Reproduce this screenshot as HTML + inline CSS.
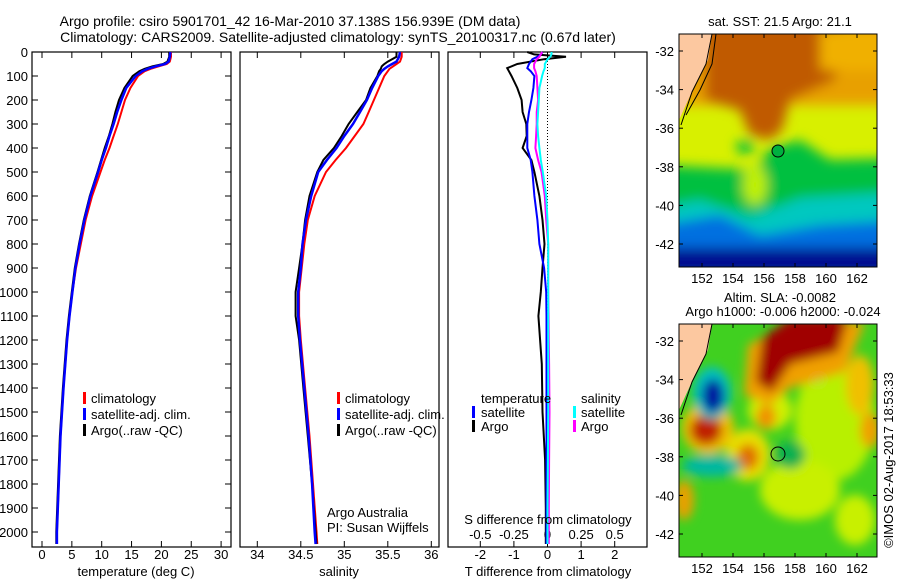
<!DOCTYPE html>
<html><head><meta charset="utf-8"><style>
body{margin:0;background:#fff;}
svg{display:block;font-family:"Liberation Sans",sans-serif;}
text{font-size:13px;fill:#000;}
</style></head><body>
<svg id="fig" width="900" height="580" viewBox="0 0 900 580" xmlns="http://www.w3.org/2000/svg">
<defs>
<filter id="bl" x="-30%" y="-30%" width="160%" height="160%"><feGaussianBlur stdDeviation="6"/></filter>
<filter id="bl2" x="-30%" y="-30%" width="160%" height="160%"><feGaussianBlur stdDeviation="5"/></filter>
<clipPath id="m1"><rect x="679" y="34" width="198" height="233"/></clipPath>
<clipPath id="m2"><rect x="679" y="324" width="198" height="233"/></clipPath>
</defs>
<text x="290" y="26" text-anchor="middle" style="font-size:14px">Argo profile: csiro 5901701_42 16-Mar-2010 37.138S 156.939E (DM data)</text>
<text x="338" y="42" text-anchor="middle" style="font-size:14px">Climatology: CARS2009. Satellite-adjusted climatology: synTS_20100317.nc (0.67d later)</text>

<g id="p1"></g>
<g id="p2"></g>
<g id="p3"></g>

<g>
<rect x="83" y="392" width="3" height="12" fill="#f00"/><text x="91" y="403">climatology</text>
<rect x="83" y="408" width="3" height="12" fill="#00f"/><text x="91" y="419">satellite-adj. clim.</text>
<rect x="83" y="424" width="3" height="12" fill="#000"/><text x="91" y="435">Argo(..raw -QC)</text>
</g>
<g>
<rect x="337" y="392" width="3" height="12" fill="#f00"/><text x="345" y="403">climatology</text>
<rect x="337" y="408" width="3" height="12" fill="#00f"/><text x="345" y="419">satellite-adj. clim.</text>
<rect x="337" y="424" width="3" height="12" fill="#000"/><text x="345" y="435">Argo(..raw -QC)</text>
</g>
<g>
<text x="481" y="403">temperature</text><text x="581" y="403">salinity</text>
<rect x="472" y="406" width="3" height="12" fill="#00f"/><text x="481" y="417">satellite</text>
<rect x="472" y="420" width="3" height="12" fill="#000"/><text x="481" y="431">Argo</text>
<rect x="573" y="406" width="3" height="12" fill="#0ff"/><text x="581" y="417">satellite</text>
<rect x="573" y="420" width="3" height="12" fill="#f0f"/><text x="581" y="431">Argo</text>
</g>
<text x="327" y="517">Argo Australia</text>
<text x="327" y="532">PI: Susan Wijffels</text>
<text x="548" y="524" text-anchor="middle">S difference from climatology</text>
<text x="136" y="576" text-anchor="middle">temperature (deg C)</text>
<text x="339" y="576" text-anchor="middle">salinity</text>
<text x="548" y="576" text-anchor="middle">T difference from climatology</text>

<text x="780" y="26" text-anchor="middle">sat. SST: 21.5 Argo: 21.1</text>
<g clip-path="url(#m1)">
<rect x="679" y="34" width="198" height="233" fill="#d8f000"/>
<g filter="url(#bl)">
<rect x="660" y="20" width="240" height="85" fill="#e8a000"/>
<path d="M705 20 L840 20 L835 80 L790 100 L782 130 L770 140 L750 135 L740 110 L705 100 Z" fill="#c05a00"/>
<rect x="820" y="30" width="70" height="40" fill="#f0b000"/>
<rect x="660" y="190" width="240" height="90" fill="#00c060"/>
<path d="M660 165 L755 170 L770 148 L800 140 L830 160 L900 158 L900 200 L660 210 Z" fill="#00c040"/>
<path d="M660 208 L700 200 L750 218 L800 198 L900 192 L900 240 L660 250 Z" fill="#00c8c0"/>
<path d="M660 225 L720 215 L760 235 L820 225 L900 220 L900 250 L660 260 Z" fill="#0070e0"/>
<rect x="660" y="248" width="240" height="30" fill="#000a90"/>
<ellipse cx="745" cy="147" rx="9" ry="7" fill="#00c040"/>
<ellipse cx="755" cy="185" rx="12" ry="20" fill="#c0f000"/>
</g>
<path d="M679 34 L712 34 L708 60 L695 85 L679 120 Z" fill="#fcc8a0"/>
<path d="M712 34 L706 64 L692 92 L681 125" fill="none" stroke="#000" stroke-width="1"/>
<path d="M716 34 L712 64 L700 90 L686 115" fill="none" stroke="#000" stroke-width="1"/>
<circle cx="778" cy="151" r="6" fill="#00b040" stroke="#000" stroke-width="1"/>
</g>
<rect x="679" y="34" width="198" height="233" fill="none" stroke="#000"/>
<g id="ax1"></g>

<text x="780" y="302" text-anchor="middle">Altim. SLA: -0.0082</text>
<text x="783" y="316" text-anchor="middle">Argo h1000: -0.006 h2000: -0.024</text>
<g clip-path="url(#m2)">
<rect x="679" y="324" width="198" height="233" fill="#40d020"/>
<g filter="url(#bl2)">
<ellipse cx="835" cy="420" rx="40" ry="60" fill="#b8f000"/>
<ellipse cx="800" cy="490" rx="40" ry="30" fill="#c8f000"/>
<ellipse cx="770" cy="410" rx="22" ry="20" fill="#d0f000"/>
<ellipse cx="855" cy="520" rx="20" ry="25" fill="#c8f000"/>
<ellipse cx="748" cy="455" rx="22" ry="26" fill="#e8e000"/>
<ellipse cx="748" cy="457" rx="11" ry="13" fill="#e07000"/>
<ellipse cx="766" cy="417" rx="10" ry="12" fill="#f09000"/>
<ellipse cx="860" cy="385" rx="14" ry="30" fill="#f0c000"/>
<ellipse cx="870" cy="430" rx="10" ry="18" fill="#f0a000"/>
<ellipse cx="708" cy="428" rx="26" ry="26" fill="#f0c000"/>
<ellipse cx="706" cy="430" rx="16" ry="15" fill="#c02000"/>
<ellipse cx="712" cy="393" rx="19" ry="26" fill="#00c0c0"/>
<ellipse cx="713" cy="396" rx="11" ry="17" fill="#0018a0"/>
<ellipse cx="712" cy="466" rx="30" ry="11" fill="#00b8a0"/>
<ellipse cx="808" cy="366" rx="24" ry="16" fill="#00c8d0"/>
<ellipse cx="808" cy="366" rx="11" ry="8" fill="#30a0ff"/>
<path d="M748 345 L790 322 L865 322 L845 372 L790 388 L770 405 L744 395 Z" fill="#f0a000"/>
<path d="M762 338 L790 318 L848 318 L838 352 L790 364 L772 392 L756 382 Z" fill="#a00000"/>
<ellipse cx="684" cy="500" rx="10" ry="20" fill="#e8a000"/>
<ellipse cx="790" cy="455" rx="15" ry="14" fill="#10b050"/>
</g>
<path d="M679 324 L712 324 L708 350 L695 375 L679 410 Z" fill="#fcc8a0"/>
<path d="M712 324 L706 354 L692 382 L681 415" fill="none" stroke="#000" stroke-width="1"/>
<circle cx="778" cy="454" r="7" fill="none" stroke="#000" stroke-width="1"/>
</g>
<rect x="679" y="324" width="198" height="233" fill="none" stroke="#000"/>
<g id="ax2"></g>
<text transform="translate(893,460) rotate(-90)" text-anchor="middle">©IMOS 02-Aug-2017 18:53:33</text>
</svg>
<script>
const depths=[0,20,40,50,60,70,80,100,150,200,250,300,350,400,450,500,600,700,800,900,1000,1100,1200,1400,1600,1800,2000,2050];
const tempArgo=[21.3,21.3,21.0,20.3,18.5,17.2,16.3,15.2,13.8,12.9,12.3,11.8,11.2,10.5,9.9,9.3,8.0,7.0,6.2,5.5,5.0,4.5,4.1,3.5,3.0,2.7,2.4,2.4];
const tempSat=[21.5,21.4,21.2,20.6,19.0,17.7,16.8,15.7,14.1,13.3,12.6,12.0,11.3,10.7,10.0,9.4,8.1,7.1,6.3,5.6,5.1,4.6,4.2,3.6,3.1,2.8,2.5,2.5];
const tempClim=[21.6,21.6,21.4,20.9,19.5,18.2,17.2,16.1,14.8,13.9,13.3,12.7,12.0,11.3,10.5,9.8,8.4,7.3,6.5,5.7,5.1,4.6,4.2,3.6,3.1,2.8,2.5,2.5];
const salArgo=[35.60,35.60,35.50,35.46,35.43,35.42,35.40,35.38,35.30,35.25,35.15,35.05,34.97,34.88,34.76,34.69,34.60,34.55,34.52,34.48,34.44,34.44,34.48,34.53,34.58,34.63,34.67,34.68];
const salSat=[35.64,35.63,35.60,35.55,35.50,35.46,35.43,35.39,35.32,35.26,35.18,35.10,35.00,34.91,34.80,34.70,34.62,34.56,34.52,34.50,34.47,34.47,34.49,34.54,34.59,34.63,34.66,34.67];
const salClim=[35.66,35.66,35.64,35.60,35.56,35.52,35.50,35.46,35.40,35.34,35.28,35.22,35.12,35.02,34.90,34.79,34.66,34.58,34.54,34.51,34.48,34.48,34.50,34.55,34.60,34.64,34.68,34.69];
const dDepths=[0,10,20,30,50,67,80,100,150,200,250,300,350,400,450,500,600,700,800,900,1000,1100,1200,1300,1500,1700,1900,2050];
const dTArgo=[-0.6,-0.4,0.55,-0.1,-0.9,-1.2,-1.15,-1.07,-0.9,-0.77,-0.74,-0.63,-0.62,-0.74,-0.48,-0.39,-0.24,-0.15,-0.09,-0.15,-0.2,-0.27,-0.22,-0.17,-0.15,-0.07,-0.05,-0.05];
const dTSat=[-0.15,-0.2,-0.3,-0.45,-0.55,-0.6,-0.5,-0.39,-0.42,-0.48,-0.55,-0.6,-0.6,-0.6,-0.5,-0.45,-0.39,-0.3,-0.24,-0.1,-0.04,-0.03,-0.03,-0.03,-0.03,-0.03,-0.03,-0.03];
const dSArgo=[-0.04,-0.05,-0.06,-0.08,-0.1,-0.1,-0.09,-0.08,-0.075,-0.07,-0.08,-0.08,-0.085,-0.09,-0.07,-0.045,-0.02,-0.01,0.005,0.005,0.005,0.008,0.01,0.012,0.015,0.012,0.01,0.01];
const dSSat=[0.03,0.03,0.02,0.0,-0.02,-0.02,-0.03,-0.04,-0.06,-0.065,-0.07,-0.075,-0.07,-0.06,-0.05,-0.035,-0.01,0.0,0.005,0.005,0.005,0.005,0.005,0.005,0.005,0.003,0.0,0.0];
const depthTicks=[0,100,200,300,400,500,600,700,800,900,1000,1100,1200,1300,1400,1500,1600,1700,1800,1900,2000];
const tempTicks=[0,5,10,15,20,25,30];
const salTicks=[34,34.5,35,35.5,36];
const salTickLabels=["34","34.5","35","35.5","36"];
const dTTicks=[-2,-1,0,1,2];
const dSTicks=[-0.5,-0.25,0,0.25,0.5];
const lonTicks=[152,154,156,158,160,162];
const latTicks=[-32,-34,-36,-38,-40,-42];

const NS="http://www.w3.org/2000/svg";
const Y=d=>52+d*0.24;
const xT=v=>42+v*5.97;
const xS=v=>257.3+(v-34)*87;
const xD=v=>547.5+v*33.6;
const xDS=v=>547.5+v*134.4;
function mk(parent,tag,attrs){const e=document.createElementNS(NS,tag);for(const k in attrs)e.setAttribute(k,attrs[k]);parent.appendChild(e);return e;}
function frame(g,x0,x1){const r=mk(g,'rect',{x:x0,y:52,width:x1-x0,height:495,fill:'none',stroke:'#000','stroke-width':1.2});}
function line(g,xs,ys,fx,col,w,name){let pts=xs.map((v,i)=>fx(v).toFixed(1)+','+Y(ys[i]).toFixed(1)).join(' ');const p=mk(g,'polyline',{points:pts,fill:'none',stroke:col,'stroke-width':w});}
function xticks(g,ticks,labels,fx,ly,top){ticks.forEach((t,i)=>{const x=fx(t);mk(g,'line',{x1:x,x2:x,y1:547,y2:541,stroke:'#000'});if(top)mk(g,'line',{x1:x,x2:x,y1:52,y2:58,stroke:'#000'});const tx=mk(g,'text',{x:x,y:ly,'text-anchor':'middle'});tx.textContent=labels[i];});}

const p1=document.getElementById('p1'),p2=document.getElementById('p2'),p3=document.getElementById('p3');
frame(p1,32,231);frame(p2,240,439);frame(p3,448,647);
depthTicks.forEach(d=>{const y=Y(d);mk(p1,'line',{x1:32,x2:38,y1:y,y2:y,stroke:'#000'});mk(p1,'line',{x1:231,x2:225,y1:y,y2:y,stroke:'#000'});const t=mk(p1,'text',{x:28,y:y+5,'text-anchor':'end'});t.textContent=d;});
xticks(p1,tempTicks,tempTicks.map(String),xT,559,true);
xticks(p2,salTicks,salTickLabels,xS,559,true);
xticks(p3,dTTicks,dTTicks.map(String),xD,559,true);
dSTicks.forEach(t=>{const tx=mk(p3,'text',{x:xDS(t),y:539,'text-anchor':'middle'});tx.textContent=String(t);});
mk(p3,'line',{x1:xD(0),x2:xD(0),y1:52,y2:547,stroke:'#000','stroke-dasharray':'1,2'});
line(p1,tempClim,depths,xT,'#f00',2,'temp-climatology-line');
line(p1,tempArgo,depths,xT,'#000',2,'temp-argo-line');
line(p1,tempSat,depths,xT,'#00f',2.5,'temp-satellite-line');
line(p2,salClim,depths,xS,'#f00',2,'sal-climatology-line');
line(p2,salArgo,depths,xS,'#000',2,'sal-argo-line');
line(p2,salSat,depths,xS,'#00f',2.5,'sal-satellite-line');
line(p3,dTArgo,dDepths,xD,'#000',2,'t-diff-argo-line');
line(p3,dTSat,dDepths,xD,'#00f',2,'t-diff-satellite-line');
line(p3,dSArgo,dDepths,xDS,'#f0f',2,'s-diff-argo-line');
line(p3,dSSat,dDepths,xDS,'#0ff',2,'s-diff-satellite-line');

function mapAxes(g,top,bottom,lat32){lonTicks.forEach(l=>{const x=702+(l-152)*15.5;mk(g,'line',{x1:x,x2:x,y1:bottom,y2:bottom-4,stroke:'#000'});mk(g,'line',{x1:x,x2:x,y1:top,y2:top+4,stroke:'#000'});const t=mk(g,'text',{x:x,y:bottom+16,'text-anchor':'middle'});t.textContent=l;});
latTicks.forEach(l=>{const y=lat32+(-32-l)*19.3;mk(g,'line',{x1:679,x2:683,y1:y,y2:y,stroke:'#000'});mk(g,'line',{x1:877,x2:873,y1:y,y2:y,stroke:'#000'});const t=mk(g,'text',{x:674,y:y+5,'text-anchor':'end'});t.textContent=l;});}
mapAxes(document.getElementById('ax1'),34,267,51);
mapAxes(document.getElementById('ax2'),324,557,341);
</script>
</body></html>
